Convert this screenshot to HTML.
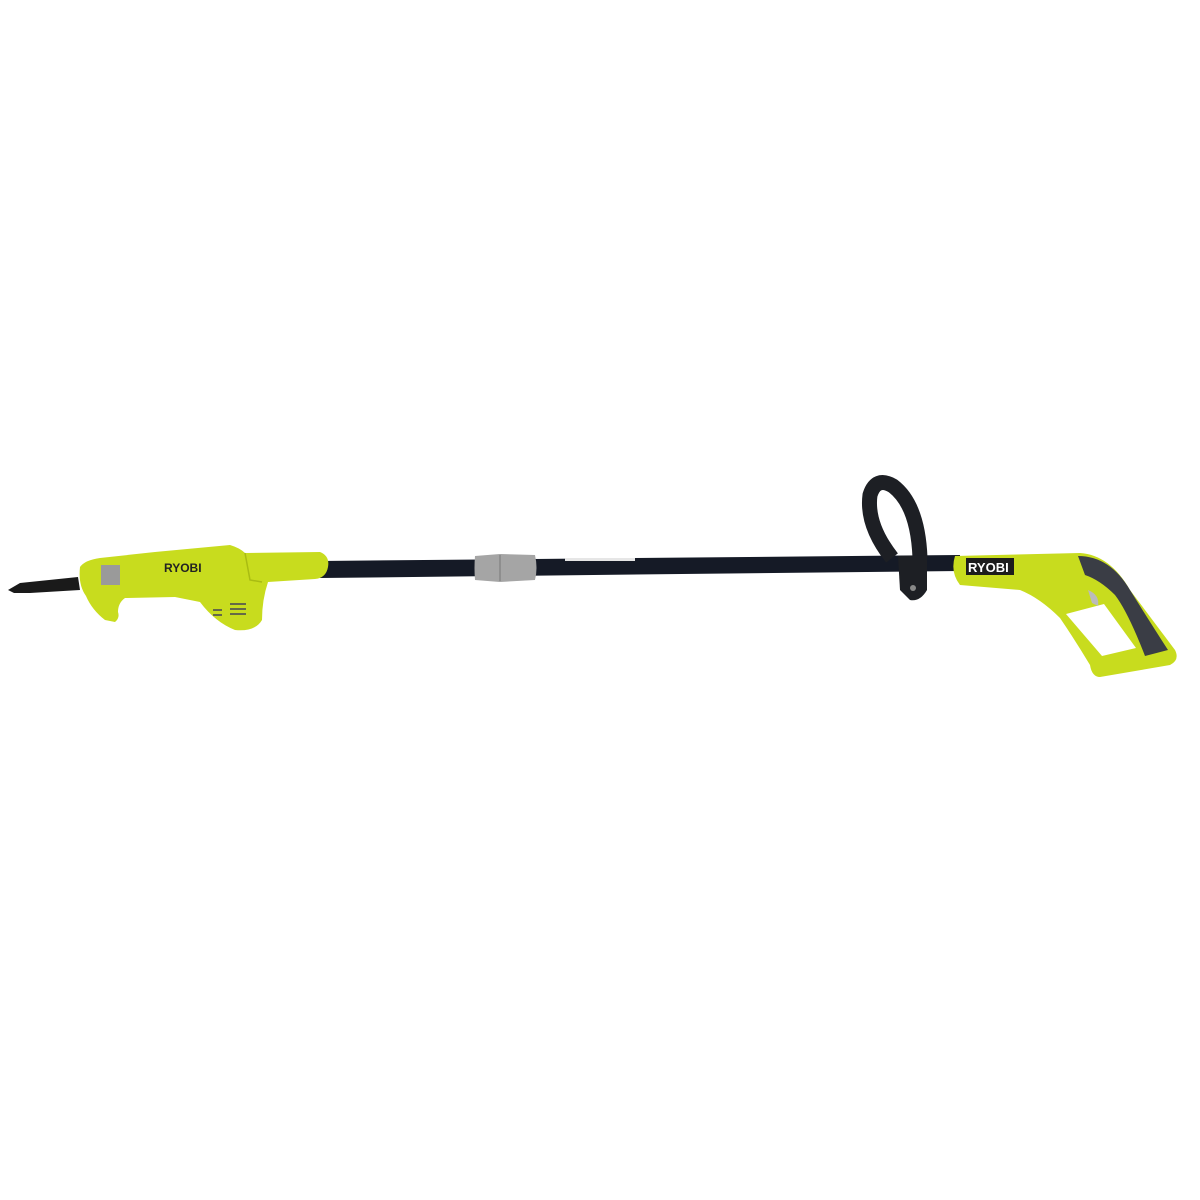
<!DOCTYPE html>
<html><head><style>html,body{margin:0;padding:0;background:#fff}svg{display:block}</style></head>
<body>
<svg width="1200" height="1200" viewBox="0 0 1200 1200" xmlns="http://www.w3.org/2000/svg">
<rect width="1200" height="1200" fill="#fff"/>
<polygon points="320,561 960,555 960,571 320,578" fill="#151a26"/>
<rect x="565" y="558" width="70" height="3" fill="#e6e6e6"/>
<path d="M475,556 Q474,568 475,580 L500,582 L535,580 Q538,568 535,555 L500,554 Z" fill="#a5a5a5"/>
<line x1="500" y1="555" x2="500" y2="581" stroke="#777" stroke-width="1"/>
<path d="M78,577 L20,583 L8,590 L14,593 L30,593 L80,590 Z" fill="#1a1a1a"/>
<path d="M80,567 Q85,560 100,558 L155,552 L230,545 Q240,548 245,553 L320,552 Q330,556 328,567 Q326,578 315,579 L268,582 Q262,600 262,620 Q255,632 235,630 Q215,622 200,602 L175,597 L125,598 Q118,603 118,612 Q120,618 115,622 L105,620 Q92,610 86,596 Q78,585 80,567 Z" fill="#c8dc1e"/>
<path d="M245,553 L250,580 L262,582" fill="none" stroke="#a9bc12" stroke-width="1.5"/>
<rect x="101" y="565" width="19" height="20" fill="#9a9a9a"/>
<text x="164" y="572" font-family="Liberation Sans, sans-serif" font-weight="bold" font-size="12" fill="#222">RYOBI</text>
<g stroke="#445" stroke-width="1.5"><line x1="213" y1="610" x2="222" y2="610"/><line x1="213" y1="615" x2="222" y2="615"/><line x1="230" y1="604" x2="246" y2="604"/><line x1="230" y1="609" x2="246" y2="609"/><line x1="230" y1="614" x2="246" y2="614"/></g>
<path d="M892,558 Q866,525 870,495 Q876,476 893,486 Q918,505 920,558" fill="none" stroke="#1d1f24" stroke-width="15" stroke-linejoin="round"/>
<path d="M898,556 L927,555 L927,590 Q920,602 910,600 L900,590 Z" fill="#1d1f24"/>
<circle cx="913" cy="588" r="3" fill="#888"/>
<path d="M955,556 L1080,553 Q1110,555 1130,590 Q1160,630 1175,650 Q1180,660 1170,665 L1100,677 Q1092,677 1090,665 Q1075,640 1060,618 Q1040,598 1020,590 L960,585 Q950,572 955,556 Z" fill="#c8dc1e"/>
<path d="M1078,556 Q1110,556 1130,590 Q1155,630 1168,650 L1145,656 Q1128,612 1115,595 Q1100,580 1085,575 Z" fill="#3a3d45"/>
<path d="M1066,614 L1104,604 L1136,648 L1102,656 Z" fill="#fff"/>
<path d="M1088,590 Q1100,595 1098,606 L1092,603 Z" fill="#bbb"/>
<rect x="966" y="558" width="48" height="17" fill="#1c1c1c"/>
<text x="968" y="572" font-family="Liberation Sans, sans-serif" font-weight="bold" font-size="13" fill="#fff">RYOBI</text>
</svg>
</body></html>
